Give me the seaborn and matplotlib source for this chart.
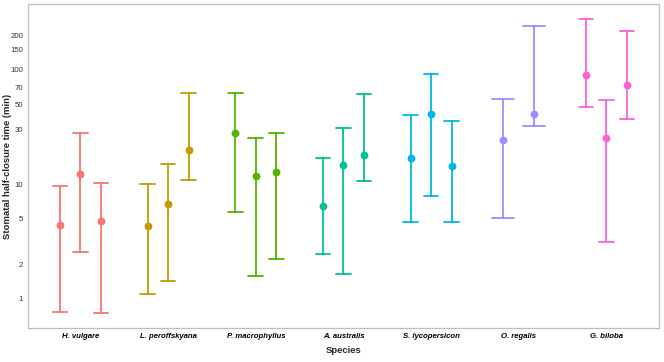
import matplotlib
matplotlib.use('Agg')
import matplotlib.pyplot as plt
import matplotlib.ticker as mticker
import pandas as pd
import seaborn as sns


SPECIES = ['H. vulgare', 'L. peroffskyana', 'P. macrophyllus', 'A. australis',
           'S. lycopersicon', 'O. regalis', 'G. biloba']
COLORS = ['#F8766D', '#C49A00', '#53B400', '#00C094', '#00B6EB', '#A58AFF', '#FB61D7']

# half-closure time per replicate experiment: centre, lower and upper limit (min)
MID = [[4.39, 12.4, 4.76],
       [4.30, 6.73, 20.0],
       [27.8, 11.8, 12.8],
       [6.51, 14.6, 18.0],
       [16.9, 41.0, 14.5],
       [24.5, 40.8],
       [89.7, 25.5, 73.9]]
LOWER = [[0.766, 2.58, 0.75],
         [1.10, 1.44, 10.9],
         [5.77, 1.58, 2.22],
         [2.48, 1.66, 10.7],
         [4.72, 7.91, 4.72],
         [5.08, 32.4],
         [46.9, 3.12, 36.9]]
UPPER = [[9.72, 28.0, 10.3],
         [10.06, 15.1, 62.1],
         [62.5, 25.5, 28.2],
         [16.95, 31.2, 61.7],
         [40.2, 91.5, 35.9],
         [55.4, 238.5],
         [276.0, 54.7, 218.4]]

Y_TICKS = [1, 2, 5, 10, 30, 50, 70, 100, 150, 200]


def build_frame():
    # three rows per replicate so that median = centre and min/max = limits
    rows = []
    for sp, mids, lows, ups in zip(SPECIES, MID, LOWER, UPPER):
        for i, (m, lo, up) in enumerate(zip(mids, lows, ups)):
            for v in (lo, m, up):
                rows.append({'Species': sp, 'Rep': i, 'Time': v})
    return pd.DataFrame(rows)


def main():
    df = build_frame()
    sns.set_style('white')
    plt.rcParams['font.family'] = ['Liberation Sans', 'DejaVu Sans']

    fig, ax = plt.subplots(figsize=(6.64, 3.62), dpi=100)
    fig.subplots_adjust(left=0.042, right=0.9925, top=0.989, bottom=0.094)

    for sp, color in zip(SPECIES, COLORS):
        sub = df[df.Species == sp]
        n = sub.Rep.nunique()
        sns.pointplot(data=sub, x='Species', y='Time', hue='Rep',
                      order=SPECIES, hue_order=list(range(n)),
                      palette=[color] * n,
                      estimator='median', errorbar=('pi', 100),
                      dodge=0.7 * (n - 1) / n, capsize=0.5 / n,
                      linestyle='none', markersize=3.6,
                      err_kws={'linewidth': 1.3},
                      legend=False, ax=ax)

    ax.set_yscale('log')
    ax.set_ylim(0.559, 373)
    ax.set_xlim(-0.6, 6.6)
    ax.yaxis.set_major_locator(mticker.FixedLocator(Y_TICKS))
    ax.yaxis.set_major_formatter(mticker.FixedFormatter([str(t) for t in Y_TICKS]))
    ax.yaxis.set_minor_locator(mticker.NullLocator())

    ax.tick_params(axis='both', length=2, width=0.6, color='#555555',
                   labelsize=5.6, labelcolor='#333333', pad=1.5)
    for lab in ax.get_xticklabels():
        lab.set_fontstyle('italic')
        lab.set_fontweight('bold')
        lab.set_color('black')

    ax.set_xlabel('Species', fontsize=6.8, fontweight='bold')
    ax.set_ylabel('Stomatal half-closure time (min)', fontsize=6.8,
                  fontweight='bold')
    ax.xaxis.set_label_coords(0.5, -0.056)
    ax.yaxis.set_label_coords(-0.0245, 0.5)

    for spine in ax.spines.values():
        spine.set_visible(True)
        spine.set_color('#BEBEBE')
        spine.set_linewidth(0.9)

    fig.savefig('out.png', dpi=100)
    plt.close(fig)


if __name__ == '__main__':
    main()
